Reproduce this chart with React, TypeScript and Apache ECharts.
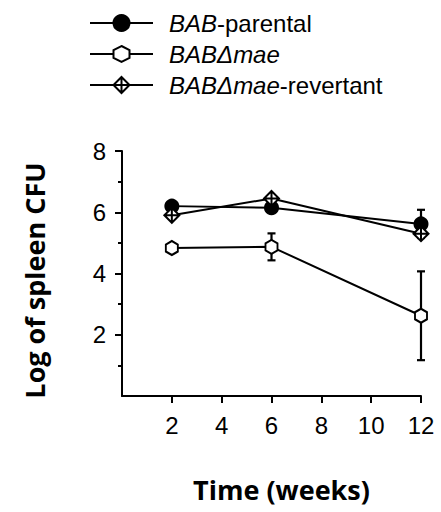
import React, { useEffect, useRef } from "react";
import * as echarts from "echarts";

const weeks = [2, 6, 12];
const parental = [6.2, 6.15, 5.62];
const parentalErr = [0, 0, 0.46];
const mae = [4.83, 4.87, 2.62];
const maeErr = [0, 0.44, 1.45];
const revertant = [5.9, 6.45, 5.3];
const revertantErr = [0, 0, 0];
const seriesNames = ["BAB-parental", "BABΔmae", "BABΔmae-revertant"];
const xTitle = "Time (weeks)";
const yTitle = "Log of spleen CFU";

const HEX = "path://M0,0L8.66,5L8.66,15L0,20L-8.66,15L-8.66,5Z";
const DIAMOND = "path://M0,0L10,10L0,20L-10,10Z M0,0L0,20 M-10,10L10,10";

function errData(vals: number[], errs: number[]) {
  const out: number[][] = [];
  weeks.forEach((w, i) => {
    if (errs[i] > 0) out.push([w, vals[i] - errs[i], vals[i] + errs[i]]);
  });
  return out;
}

function errSeries(vals: number[], errs: number[]) {
  return {
    type: "custom",
    z: 1,
    silent: true,
    data: errData(vals, errs),
    renderItem: (params: any, api: any) => {
      const x = api.value(0);
      const lo = api.coord([x, api.value(1)]);
      const hi = api.coord([x, api.value(2)]);
      const hw = 4;
      const st = { stroke: "#000", lineWidth: 2.2 };
      return {
        type: "group",
        children: [
          { type: "line", shape: { x1: lo[0], y1: lo[1], x2: hi[0], y2: hi[1] }, style: st },
          { type: "line", shape: { x1: lo[0] - hw, y1: lo[1], x2: lo[0] + hw, y2: lo[1] }, style: st },
          { type: "line", shape: { x1: hi[0] - hw, y1: hi[1], x2: hi[0] + hw, y2: hi[1] }, style: st },
        ],
      };
    },
  };
}

function lineSeries(name: string, vals: number[], symbol: string, size: any, fill: string) {
  return {
    type: "line",
    name,
    z: 3,
    data: weeks.map((w, i) => [w, vals[i]]),
    symbol,
    symbolSize: size,
    showAllSymbol: true,
    itemStyle: { color: fill, borderColor: "#000", borderWidth: 2 },
    lineStyle: { color: "#000", width: 2 },
  };
}

export default function App() {
  const ref = useRef<HTMLDivElement>(null);
  useEffect(() => {
    if (!ref.current) return;
    const chart = echarts.init(ref.current, undefined, { renderer: "svg" });
    const sans = "'Liberation Sans', Arial, sans-serif";
    const bold = "'Open Sans', 'Noto Sans', sans-serif";
    chart.setOption({
      animation: false,
      backgroundColor: "#fff",
      grid: { left: 122, right: 20, top: 151, bottom: 116, outerBoundsMode: "none" },
      legend: {
        data: seriesNames,
        orient: "vertical",
        left: 89,
        top: 11,
        padding: 0,
        itemWidth: 63,
        itemHeight: 20,
        itemGap: 7,
        formatter: (name: string) => {
          const k = name.indexOf("-");
          if (k < 0) return "{i|" + name + "}";
          return "{i|" + name.slice(0, k) + "}{n|" + name.slice(k) + "}";
        },
        textStyle: {
          fontSize: 24,
          fontFamily: sans,
          color: "#000",
          lineHeight: 22,
          padding: [0, 0, 0, 11],
          rich: {
            i: { fontSize: 24, fontFamily: sans, fontStyle: "italic", color: "#000", lineHeight: 22 },
            n: { fontSize: 24, fontFamily: sans, color: "#000", lineHeight: 22 },
          },
        },
      },
      xAxis: {
        type: "value",
        min: 0,
        max: 12,
        interval: 2,
        name: xTitle,
        nameLocation: "middle",
        nameGap: 80,
        nameTextStyle: { fontSize: 27, fontWeight: "bold", fontFamily: bold, color: "#000", padding: [0, 0, 0, 20] },
        axisLine: { show: true, onZero: false, lineStyle: { color: "#000", width: 2 } },
        axisTick: { show: true, length: 7, inside: false, lineStyle: { color: "#000", width: 2 }, customValues: [2, 4, 6, 8, 10, 12] },
        axisLabel: {
          fontSize: 24,
          fontFamily: sans,
          color: "#000",
          margin: 17,
          formatter: (v: number) => (v === 0 ? "" : String(v)),
        },
        splitLine: { show: false },
      },
      yAxis: {
        type: "value",
        min: 0,
        max: 8,
        interval: 2,
        name: yTitle,
        nameLocation: "middle",
        nameGap: 74,
        nameRotate: 90,
        nameTextStyle: { fontSize: 27, fontWeight: "bold", fontFamily: bold, color: "#000", padding: [0, 14, 0, 0] },
        axisLine: { show: true, onZero: false, lineStyle: { color: "#000", width: 2 } },
        axisTick: { show: true, length: 7, inside: false, lineStyle: { color: "#000", width: 2 }, customValues: [2, 4, 6, 8] },
        minorTick: { show: true, splitNumber: 2, length: 4, lineStyle: { color: "#000", width: 2 } },
        axisLabel: {
          fontSize: 24,
          fontFamily: sans,
          color: "#000",
          margin: 16,
          formatter: (v: number) => (v === 0 ? "" : String(v)),
        },
        splitLine: { show: false },
      },
      series: [
        errSeries(parental, parentalErr),
        errSeries(mae, maeErr),
        errSeries(revertant, revertantErr),
        lineSeries(seriesNames[0], parental, "circle", 13, "#000"),
        lineSeries(seriesNames[1], mae, HEX, [12, 14], "#fff"),
        lineSeries(seriesNames[2], revertant, DIAMOND, 15, "#fff"),
      ],
    });
    return () => chart.dispose();
  }, []);
  return (
    <div
      ref={ref}
      style={{ position: "fixed", left: 0, top: 0, width: 441, height: 512, background: "#fff" }}
    />
  );
}
